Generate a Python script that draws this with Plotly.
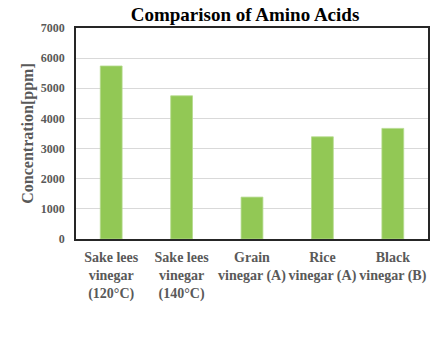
import plotly.graph_objects as go

categories = [
    "Sake lees<br>vinegar<br>(120°C)",
    "Sake lees<br>vinegar<br>(140°C)",
    "Grain<br>vinegar (A)",
    "Rice<br>vinegar (A)",
    "Black<br>vinegar (B)",
]
values = [5740, 4750, 1390, 3390, 3670]
y_ticks = [0, 1000, 2000, 3000, 4000, 5000, 6000, 7000]

serif = "Liberation Serif, Times New Roman, serif"
gray = "#595959"

fig = go.Figure(
    go.Bar(
        x=categories,
        y=values,
        marker=dict(color="#92C855", line=dict(color="#B5DA8E", width=0.8)),
        width=0.31,
    )
)

fig.update_layout(
    width=432,
    height=344,
    margin=dict(l=76, r=2, t=28, b=105),
    paper_bgcolor="white",
    plot_bgcolor="white",
    showlegend=False,
    title=dict(
        text="<b>Comparison of Amino Acids</b>",
        font=dict(family=serif, size=19, color="black"),
        x=245 / 432,
        xref="container",
        xanchor="center",
        y=1 - 14 / 344,
        yref="container",
        yanchor="middle",
    ),
    font=dict(family=serif, color=gray),
)

fig.update_xaxes(
    showline=True,
    linecolor="#262626",
    linewidth=1.5,
    mirror=True,
    tickfont=dict(family=serif, size=14, color=gray, weight="bold"),
    ticklabelstandoff=4,
    tickangle=0,
)

fig.update_yaxes(
    range=[0, 7000],
    tickvals=y_ticks,
    tickfont=dict(family=serif, size=12, color=gray, weight="bold"),
    showgrid=True,
    gridcolor="#D9D9D9",
    gridwidth=1,
    showline=True,
    linecolor="#262626",
    linewidth=1.5,
    mirror=True,
    zeroline=False,
    ticklabelstandoff=7,
    title=dict(
        text="<b>Concentration[ppm]</b>",
        font=dict(family=serif, size=16, color=gray),
        standoff=3,
    ),
)

fig.write_html("out.html")
